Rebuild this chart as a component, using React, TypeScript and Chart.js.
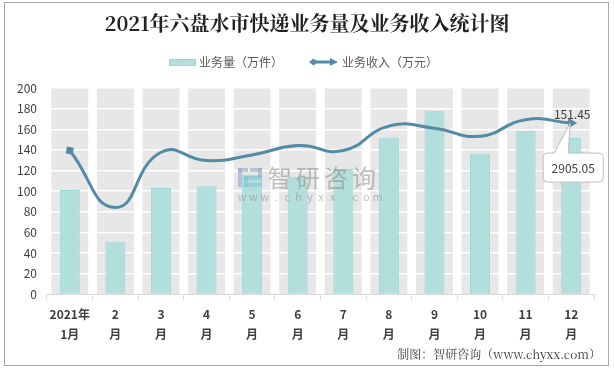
import React, { useEffect, useRef } from "react";
import { Chart, registerables } from "chart.js";

Chart.register(...registerables);

const TITLE = "2021年六盘水市快递业务量及业务收入统计图";
const SERIES_BAR = "业务量（万件）";
const SERIES_LINE = "业务收入（万元）";
const FOOTER = "制图：智研咨询（www.chyxx.com）";

const categories: string[][] = [
  ["2021年", "1月"],
  ["2", "月"],
  ["3", "月"],
  ["4", "月"],
  ["5", "月"],
  ["6", "月"],
  ["7", "月"],
  ["8", "月"],
  ["9", "月"],
  ["10", "月"],
  ["11", "月"],
  ["12", "月"],
];

// 业务量（万件）
const volume: number[] = [101.2, 50.9, 103.1, 104.7, 116.0, 114.0, 121.6, 151.8, 178.0, 136.2, 158.6, 151.45];
// 业务收入（万元）
const revenue: number[] = [2440, 1474, 2410, 2270, 2363, 2525, 2440, 2853, 2818, 2683, 2963, 2905.05];

const yTicks: number[] = [0, 20, 40, 60, 80, 100, 120, 140, 160, 180, 200];

const BAR_FILL = "rgba(178,223,220,1)";
const BAR_BORDER = "rgba(160,214,210,1)";
const LINE_COLOR = "#538ba6";
const SANS = "'Microsoft YaHei', 'Noto Sans CJK SC', 'Noto Sans', sans-serif";
const SERIF = "'SimSun', 'Noto Serif CJK SC', 'Noto Sans CJK SC', serif";

const decorPlugin = {
  id: "decor",
  beforeDraw(chart: any) {
    const { ctx, chartArea, scales } = chart;
    ctx.save();
    ctx.fillStyle = "#ffffff";
    ctx.fillRect(0, 0, chart.width, chart.height);
    // outer frame
    ctx.strokeStyle = "#a6a6a6";
    ctx.lineWidth = 1;
    ctx.strokeRect(4.5, 2.5, 604, 363);
    // category bands
    const x = scales.x;
    const step = (chartArea.right - chartArea.left) / categories.length;
    ctx.fillStyle = "#e7e7e7";
    for (let i = 0; i < categories.length; i++) {
      const cx = x.getPixelForValue(i);
      const w = step * 0.81;
      ctx.fillRect(cx - w / 2, chartArea.top, w, chartArea.bottom - chartArea.top);
    }
    ctx.restore();
  },
  afterDraw(chart: any) {
    const { ctx } = chart;
    ctx.save();
    // title
    ctx.fillStyle = "#222222";
    ctx.font = `bold 20px ${SERIF}`;
    ctx.textAlign = "center";
    ctx.textBaseline = "middle";
    ctx.fillText(TITLE, 307, 23);

    // legend
    ctx.font = `12px ${SANS}`;
    ctx.textAlign = "left";
    ctx.fillStyle = BAR_FILL;
    ctx.fillRect(169, 59, 27, 7);
    ctx.strokeStyle = BAR_BORDER;
    ctx.lineWidth = 1;
    ctx.strokeRect(169.5, 59.5, 26, 6);
    ctx.fillStyle = "#595959";
    ctx.fillText(SERIES_BAR, 199, 62.5);
    // line legend symbol
    ctx.strokeStyle = LINE_COLOR;
    ctx.fillStyle = LINE_COLOR;
    ctx.lineWidth = 3;
    ctx.beginPath();
    ctx.moveTo(312, 62);
    ctx.lineTo(332, 62);
    ctx.stroke();
    ctx.beginPath();
    ctx.moveTo(309, 62);
    ctx.lineTo(313.5, 58.5);
    ctx.lineTo(318, 62);
    ctx.lineTo(313.5, 65.5);
    ctx.closePath();
    ctx.fill();
    ctx.beginPath();
    ctx.moveTo(338, 62);
    ctx.lineTo(330, 58);
    ctx.lineTo(330, 66);
    ctx.closePath();
    ctx.fill();
    ctx.fillStyle = "#595959";
    ctx.fillText(SERIES_LINE, 342, 62.5);

    // watermark
    ctx.globalAlpha = 0.55;
    ctx.fillStyle = "#8fa3c2";
    ctx.fillRect(238, 168, 10, 4);
    ctx.fillRect(238, 168, 4, 19);
    ctx.fillRect(250, 168, 12, 4);
    ctx.fillRect(258, 168, 4, 10);
    ctx.fillStyle = "#7fbfd8";
    ctx.fillRect(244, 176, 18, 4);
    ctx.fillRect(244, 176, 4, 11);
    ctx.fillRect(244, 183, 18, 4);
    ctx.fillStyle = "#8a8a8a";
    ctx.font = `24px ${SANS}`;
    ctx.textAlign = "left";
    const wm = "智研咨询";
    for (let i = 0; i < wm.length; i++) ctx.fillText(wm[i], 268 + i * 28, 178);
    ctx.font = `11px ${SANS}`;
    const url = "www.chyxx.com";
    ctx.textAlign = "center";
    for (let i = 0; i < url.length; i++) ctx.fillText(url[i], 242 + i * 11.3, 197);
    ctx.globalAlpha = 1;

    // data labels for last point
    const meta = chart.getDatasetMeta(1);
    const pt = meta.data[meta.data.length - 1];
    const barMeta = chart.getDatasetMeta(0);
    const bar = barMeta.data[barMeta.data.length - 1];
    ctx.fillStyle = "#404040";
    ctx.font = `12px ${SANS}`;
    ctx.textAlign = "center";
    ctx.fillText(String(volume[volume.length - 1]), bar.x + 1, pt.y - 9);

    // callout
    const bx = pt.x - 28, by = pt.y + 30, bw = 60, bh = 29;
    ctx.fillStyle = "#ffffff";
    ctx.strokeStyle = "#bfbfbf";
    ctx.lineWidth = 1;
    ctx.beginPath();
    const r = 4;
    ctx.moveTo(bx + r, by);
    ctx.lineTo(pt.x - 17, by);
    ctx.lineTo(pt.x - 1, pt.y);
    ctx.lineTo(pt.x - 3, by);
    ctx.lineTo(bx + bw - r, by);
    ctx.arcTo(bx + bw, by, bx + bw, by + r, r);
    ctx.lineTo(bx + bw, by + bh - r);
    ctx.arcTo(bx + bw, by + bh, bx + bw - r, by + bh, r);
    ctx.lineTo(bx + r, by + bh);
    ctx.arcTo(bx, by + bh, bx, by + bh - r, r);
    ctx.lineTo(bx, by + r);
    ctx.arcTo(bx, by, bx + r, by, r);
    ctx.closePath();
    ctx.fill();
    ctx.stroke();
    ctx.fillStyle = "#404040";
    ctx.fillText(String(revenue[revenue.length - 1].toFixed(2)), bx + bw / 2, by + bh / 2 + 1);

    // footer
    ctx.fillStyle = "#404040";
    ctx.font = `12px ${SERIF}`;
    ctx.textAlign = "right";
    ctx.fillText(FOOTER, 601, 354);
    ctx.restore();
  },
};

export default function App() {
  const ref = useRef<HTMLCanvasElement | null>(null);
  useEffect(() => {
    document.body.style.margin = "0";
    const canvas = ref.current;
    if (!canvas) return;
    const n = revenue.length;
    const chart = new Chart(canvas, {
      type: "bar",
      data: {
        labels: categories as any,
        datasets: [
          {
            type: "bar",
            label: SERIES_BAR,
            data: volume,
            backgroundColor: BAR_FILL,
            borderColor: BAR_BORDER,
            borderWidth: 1,
            categoryPercentage: 1,
            barPercentage: 0.44,
            yAxisID: "y",
            order: 2,
          },
          {
            type: "line",
            label: SERIES_LINE,
            data: revenue,
            borderColor: LINE_COLOR,
            backgroundColor: LINE_COLOR,
            borderWidth: 3,
            tension: 0.5,
            pointRadius: revenue.map((_, i) => (i === 0 ? 5 : i === n - 1 ? 6 : 0)),
            pointStyle: revenue.map((_, i) => (i === n - 1 ? "triangle" : "rect")) as any,
            pointRotation: revenue.map((_, i) => (i === n - 1 ? 90 : 10)),
            pointBorderWidth: 0,
            yAxisID: "y2",
            order: 1,
          } as any,
        ],
      },
      options: {
        responsive: false,
        animation: false,
        devicePixelRatio: 1,
        layout: { padding: { top: 88, left: 7, right: 21, bottom: 21 } },
        plugins: {
          legend: { display: false },
          title: { display: false },
          tooltip: { enabled: false },
        },
        scales: {
          x: {
            offset: true,
            grid: {
              offset: true,
              drawOnChartArea: false,
              drawTicks: true,
              tickLength: 5,
              color: "#d9d9d9",
            },
            border: { display: true, color: "#d9d9d9" },
            ticks: {
              color: "#404040",
              font: { family: SANS, size: 12, weight: "bold", lineHeight: 1.65 },
              padding: 5,
              maxRotation: 0,
              autoSkip: false,
            },
          },
          y: {
            min: 0,
            max: 200,
            afterBuildTicks: (axis: any) => {
              axis.ticks = yTicks.map((v) => ({ value: v }));
            },
            grid: { color: "#ffffff", lineWidth: 1.5, drawTicks: false },
            border: { display: false },
            ticks: {
              color: "#404040",
              font: { family: SANS, size: 12 },
              padding: 10,
            },
          },
          y2: {
            display: false,
            min: 0,
            max: 3500,
            position: "right",
          },
        },
      },
      plugins: [decorPlugin],
    });
    return () => chart.destroy();
  }, []);
  return (
    <div style={{ width: 615, height: 370 }}>
      <canvas ref={ref} width={615} height={370} style={{ display: "block" }} />
    </div>
  );
}
